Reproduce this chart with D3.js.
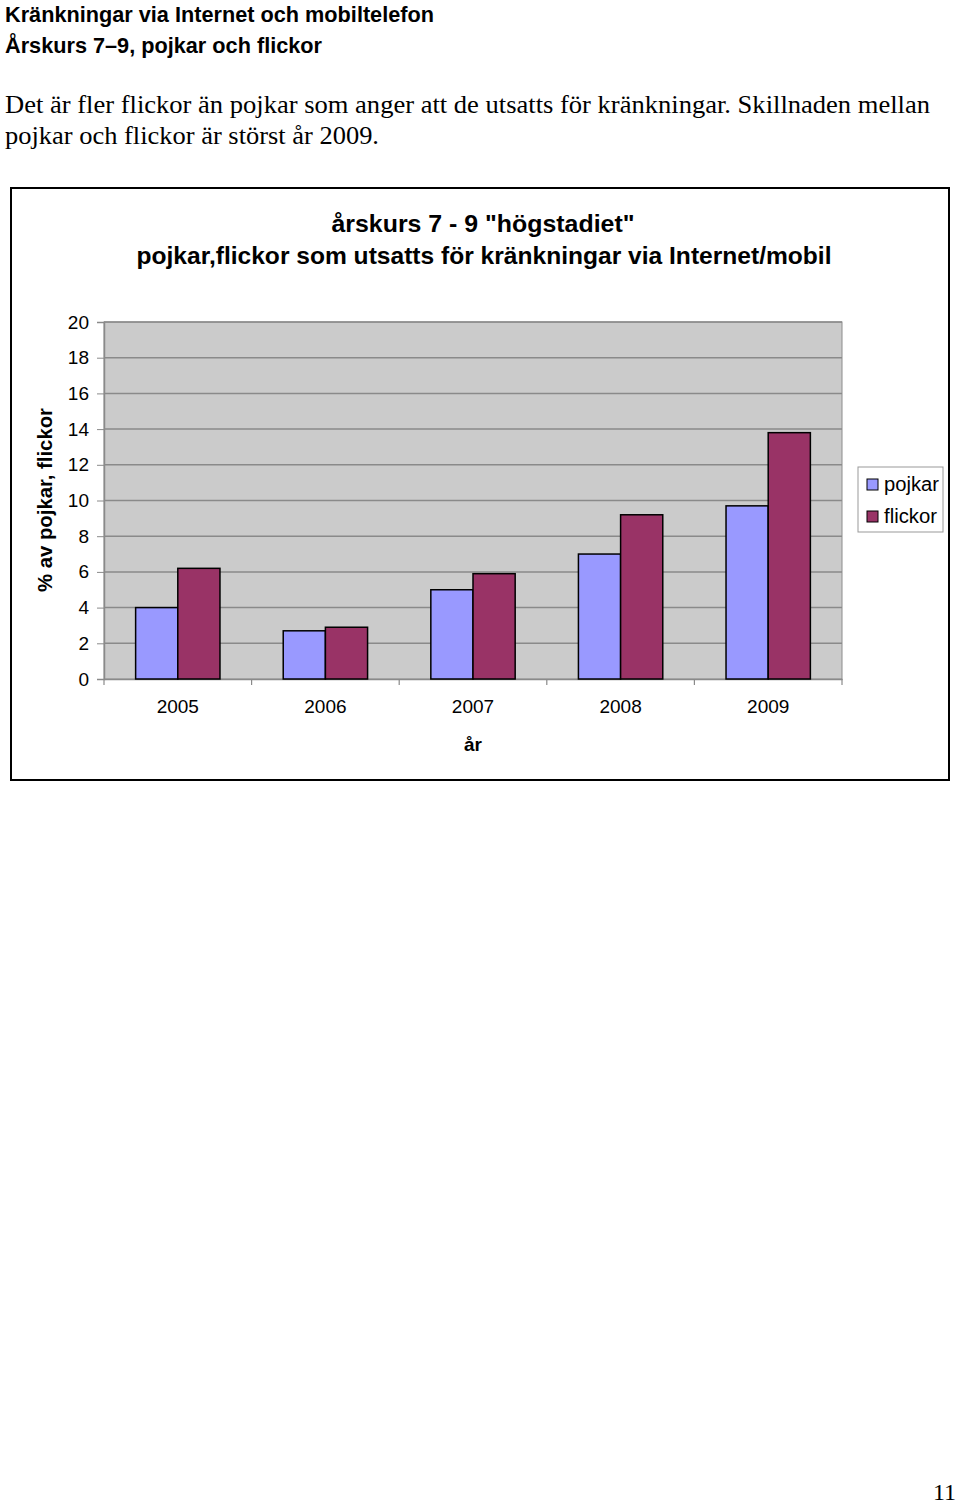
<!DOCTYPE html>
<html><head><meta charset="utf-8">
<script src="https://cdn.jsdelivr.net/npm/d3@7"></script>
<style>body{margin:0;background:#fff}svg{display:block}</style>
</head><body>
<svg id="c" width="960" height="1508"></svg>
<script>
const years = ["2005","2006","2007","2008","2009"];
const seriesNames = ["pojkar","flickor"];
const pojkar = [4.0, 2.7, 5.0, 7.0, 9.7];
const flickor = [6.2, 2.9, 5.9, 9.2, 13.8];
const yTicks = [0,2,4,6,8,10,12,14,16,18,20];
const colors = ["#9999FF","#993366"];

const svg = d3.select("#c");
const sans = "'Liberation Sans', Arial, sans-serif";
const serif = "'Liberation Serif', 'Times New Roman', serif";

// page header
svg.append("text").attr("x",5).attr("y",22).attr("font-family",sans).attr("font-weight","bold")
  .attr("font-size",22).attr("textLength",429).attr("lengthAdjust","spacingAndGlyphs")
  .text("Kränkningar via Internet och mobiltelefon");
svg.append("text").attr("x",5).attr("y",53).attr("font-family",sans).attr("font-weight","bold")
  .attr("font-size",22).attr("textLength",317).attr("lengthAdjust","spacingAndGlyphs")
  .text("Årskurs 7–9, pojkar och flickor");
svg.append("text").attr("x",5).attr("y",113).attr("font-family",serif).attr("font-size",26)
  .attr("textLength",925).attr("lengthAdjust","spacingAndGlyphs")
  .text("Det är fler flickor än pojkar som anger att de utsatts för kränkningar. Skillnaden mellan");
svg.append("text").attr("x",5).attr("y",144).attr("font-family",serif).attr("font-size",26)
  .attr("textLength",374).attr("lengthAdjust","spacingAndGlyphs")
  .text("pojkar och flickor är störst år 2009.");
svg.append("text").attr("x",956).attr("y",1500).attr("text-anchor","end").attr("font-family",serif).attr("font-size",24)
  .text("11");

// chart box
svg.append("rect").attr("x",11).attr("y",188).attr("width",938).attr("height",592)
  .attr("fill","#fff").attr("stroke","#000").attr("stroke-width",2);

svg.append("text").attr("x",483).attr("y",232).attr("text-anchor","middle").attr("font-family",sans)
  .attr("font-weight","bold").attr("font-size",24).attr("textLength",303).attr("lengthAdjust","spacingAndGlyphs")
  .text('årskurs 7 - 9 "högstadiet"');
svg.append("text").attr("x",484).attr("y",264).attr("text-anchor","middle").attr("font-family",sans)
  .attr("font-weight","bold").attr("font-size",24).attr("textLength",695).attr("lengthAdjust","spacingAndGlyphs")
  .text("pojkar,flickor som utsatts för kränkningar via Internet/mobil");

const L=104, R=842, T=322, B=679;
const x = d3.scaleBand().domain(years).range([L,R]).paddingInner(0).paddingOuter(0);
const y = d3.scaleLinear().domain([0,20]).range([B,T]);
// Excel gap width 150%: bar width = band / 3.5
const bw = x.bandwidth()/3.5;

svg.append("rect").attr("x",L).attr("y",T).attr("width",R-L).attr("height",B-T)
  .attr("fill","#CBCBCB").attr("stroke","#8c8c8c").attr("stroke-width",1);

svg.append("g").selectAll("line").data(yTicks.filter(d=>d>0)).join("line")
  .attr("x1",L).attr("x2",R).attr("y1",d=>y(d)).attr("y2",d=>y(d))
  .attr("stroke","#8a8a8a").attr("stroke-width",1.5);

// y axis
const ya = svg.append("g").attr("transform",`translate(${L},0)`)
  .call(d3.axisLeft(y).tickValues(yTicks).tickSize(7).tickPadding(8));
ya.select(".domain").attr("stroke","#8a8a8a").attr("stroke-width",1.5);
ya.selectAll(".tick line").attr("stroke","#8a8a8a");
ya.selectAll("text").attr("font-family",sans).attr("font-size",19).attr("fill","#000");

// x axis
const xa = svg.append("g").attr("transform",`translate(0,${B})`)
  .call(d3.axisBottom(x).tickSize(0).tickPadding(21));
xa.select(".domain").attr("stroke","#8a8a8a").attr("stroke-width",1.5);
xa.selectAll("text").attr("font-family",sans).attr("font-size",19).attr("fill","#000");
svg.append("g").selectAll("line").data(years.concat(["end"])).join("line")
  .attr("x1",(d,i)=>L+i*x.step()).attr("x2",(d,i)=>L+i*x.step())
  .attr("y1",B).attr("y2",B+6).attr("stroke","#8a8a8a").attr("stroke-width",1.2);

// bars
const data = [pojkar, flickor];
data.forEach((vals,s)=>{
  svg.append("g").selectAll("rect").data(vals).join("rect")
    .attr("x",(d,i)=>x(years[i]) + bw*0.75 + s*bw)
    .attr("y",d=>y(d)).attr("width",bw).attr("height",d=>B-y(d))
    .attr("fill",colors[s]).attr("stroke","#000").attr("stroke-width",1.5);
});

// axis titles
svg.append("text").attr("transform","translate(52,500) rotate(-90)").attr("text-anchor","middle")
  .attr("font-family",sans).attr("font-weight","bold").attr("font-size",20)
  .attr("textLength",184).attr("lengthAdjust","spacingAndGlyphs").text("% av pojkar, flickor");
svg.append("text").attr("x",473).attr("y",751).attr("text-anchor","middle")
  .attr("font-family",sans).attr("font-weight","bold").attr("font-size",19).text("år");

// legend
const lg = svg.append("g");
lg.append("rect").attr("x",858).attr("y",467).attr("width",85).attr("height",65)
  .attr("fill","#fff").attr("stroke","#999").attr("stroke-width",1);
seriesNames.forEach((n,i)=>{
  lg.append("rect").attr("x",867).attr("y",479+i*32).attr("width",11).attr("height",11)
    .attr("fill",colors[i]).attr("stroke","#000").attr("stroke-width",1);
  lg.append("text").attr("x",884).attr("y",491+i*32).attr("font-family",sans).attr("font-size",20)
    .attr("textLength",n==="pojkar"?55:53).attr("lengthAdjust","spacingAndGlyphs").text(n);
});
</script>
</body></html>
